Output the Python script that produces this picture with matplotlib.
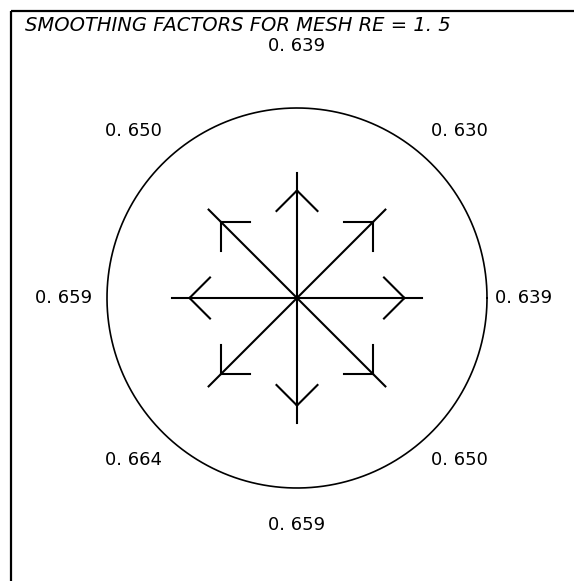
import numpy as np
import matplotlib
matplotlib.use("Agg")
import matplotlib.pyplot as plt

# Smoothing factors for eight stencil directions (degrees, counter-clockwise from east)
directions = [90, 45, 0, -45, -90, -135, 180, 135]
factors = [0.639, 0.630, 0.639, 0.650, 0.659, 0.664, 0.659, 0.650]
mesh_re = 1.5

# label anchor offsets (in circle radii) for each direction
label_dx = [0.0, 0.855, 1.19, 0.855, 0.0, -0.86, -1.23, -0.86]
label_dy = [1.325, 0.88, 0.0, -0.855, -1.195, -0.855, 0.0, 0.88]

W, H = 574, 581
cx, cy = 297, 298          # circle centre, pixels from top-left
R = 190.0                  # circle radius, pixels

fig = plt.figure(figsize=(W / 100, H / 100), dpi=100)
ax = fig.add_axes([0, 0, 1, 1])
ax.set_xlim(-cx / R, (W - cx) / R)
ax.set_ylim(-(H - cy) / R, cy / R)
ax.set_aspect("equal")
ax.axis("off")

def px(x, y):
    """pixel position (from top-left) -> data coordinates"""
    return (x - cx) / R, (cy - y) / R

# frame: top and left edges
x0, y0 = px(11, 11)
x1, _ = px(W, 11)
_, y1 = px(11, H)
ax.plot([x0, x1], [y0, y0], color="black", lw=1.6, solid_capstyle="butt")
ax.plot([x0, x0], [y0, y1], color="black", lw=1.6, solid_capstyle="butt")

# title
tx, ty = px(25, 31)
ax.text(tx, ty, f"SMOOTHING FACTORS FOR MESH RE = {mesh_re:.1f}".replace(".", ". "),
        fontsize=14.0, style="italic", ha="left", va="baseline", family="DejaVu Sans")

# unit circle
t = np.linspace(0, 2 * np.pi, 400)
ax.plot(np.cos(t), np.sin(t), color="black", lw=1.2)

# arrows
shaft = 125 / R
tip = 107.5 / R
arm = 29 / R
for ang in directions:
    a = np.deg2rad(ang)
    ux, uy = np.cos(a), np.sin(a)
    ax.plot([0, shaft * ux], [0, shaft * uy], color="black", lw=1.5)
    px_t, py_t = tip * ux, tip * uy
    for s in (+1, -1):
        b = a + np.pi + s * np.pi / 4
        ax.plot([px_t, px_t + arm * np.cos(b)], [py_t, py_t + arm * np.sin(b)],
                color="black", lw=1.5)

# factor labels
for v, dx, dy in zip(factors, label_dx, label_dy):
    ax.text(dx, dy, f"{v:.3f}".replace(".", ". "), fontsize=13,
            ha="center", va="center", family="DejaVu Sans")

fig.savefig("out.png", dpi=100)
